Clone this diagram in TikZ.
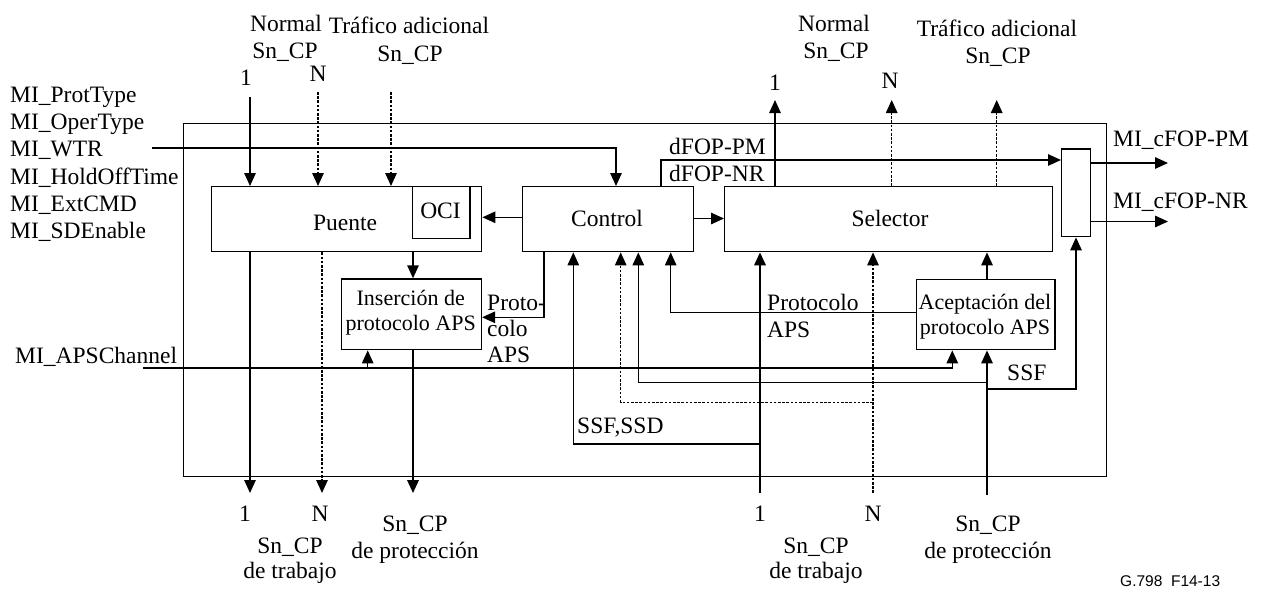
\documentclass[tikz,border=0pt]{standalone}
\usepackage{fontspec}
\setmainfont{Liberation Serif}
\newfontfamily\sansf{Liberation Sans}
\usetikzlibrary{arrows.meta}
\begin{document}
\begin{tikzpicture}[x=1pt,y=-1pt,
  ln/.style={line width=1.4pt},
  thk/.style={line width=2pt},
  dotl/.style={line width=1.4pt, dash pattern=on 2.6pt off 1.6pt},
  arr/.style={-{Triangle[length=13pt,width=11.5pt]}},
  box/.style={draw, line width=1.4pt, inner sep=0pt, anchor=north west},
  txt/.style={inner sep=0pt, font=\fontsize{23.5}{27}\selectfont},
  btxt/.style={inner sep=0pt, font=\fontsize{22}{26}\selectfont},
]
\useasboundingbox (0,0) rectangle (1263,595);
% boxes
\node[box, minimum width=923pt, minimum height=353pt] (outer) at (183,123) {};
\node[box, minimum width=270pt, minimum height=65pt] (puente) at (211,186) {};
\node[box, minimum width=57.6pt, minimum height=51.7pt] (oci) at (411.7,186) {};
\node[box, minimum width=171pt, minimum height=65pt] (control) at (521.7,186) {};
\node[box, minimum width=328pt, minimum height=65pt] (selector) at (724,186) {};
\node[box, minimum width=28.5pt, minimum height=87.7pt] (comb) at (1061,148.3) {};
\node[box, minimum width=140pt, minimum height=70.7pt] (ins) at (340.7,278.3) {};
\node[box, minimum width=138.6pt, minimum height=70pt] (acc) at (915.7,279) {};
% box texts
\node[txt, anchor=base] (tpuente) at (345,230) {Puente};
\node[txt, anchor=base] (toci) at (440.5,218) {OCI};
\node[txt, anchor=base] (tcontrol) at (607,226.7) {Control};
\node[txt, anchor=base] (tselector) at (890,226.7) {Selector};
\node[btxt, anchor=base] (tins1) at (410.7,305) {Inserción de};
\node[btxt, anchor=base] (tins2) at (410.7,330.5) {protocolo APS};
\node[btxt, anchor=base] (tacc1) at (985,309) {Aceptación del};
\node[btxt, anchor=base] (tacc2) at (985,334.5) {protocolo APS};
% left management labels
\node[txt, anchor=base west] (l1) at (10,102.5) {MI\_ProtType};
\node[txt, anchor=base west] (l2) at (10,129.7) {MI\_OperType};
\node[txt, anchor=base west] (l3) at (10,156.9) {MI\_WTR};
\node[txt, anchor=base west] (l4) at (10,184.1) {MI\_HoldOffTime};
\node[txt, anchor=base west] (l5) at (10,211.3) {MI\_ExtCMD};
\node[txt, anchor=base west] (l6) at (10,238.5) {MI\_SDEnable};
\node[txt, anchor=base west] (lap) at (15,363) {MI\_APSChannel};
% top labels
\node[txt, anchor=base] (tn1) at (286,31) {Normal};
\node[txt, anchor=base] (tn2) at (285,58) {Sn\_CP};
\node[txt, anchor=base] (tn3) at (246,85) {1};
\node[txt, anchor=base] (tn4) at (318,81) {N};
\node[txt, anchor=base] (tt1) at (409,33) {Tráfico adicional};
\node[txt, anchor=base] (tt2) at (410,61) {Sn\_CP};
\node[txt, anchor=base] (rn1) at (834,31) {Normal};
\node[txt, anchor=base] (rn2) at (836,58) {Sn\_CP};
\node[txt, anchor=base] (rn3) at (775,90) {1};
\node[txt, anchor=base] (rn4) at (890,88) {N};
\node[txt, anchor=base] (rt1) at (997,36) {Tráfico adicional};
\node[txt, anchor=base] (rt2) at (998,63) {Sn\_CP};
% signal labels
\node[txt, anchor=base west] (dpm) at (669,154) {dFOP-PM};
\node[txt, anchor=base west] (dnr) at (669,181.5) {dFOP-NR};
\node[txt, anchor=base west] (cpm) at (1113,146.5) {MI\_cFOP-PM};
\node[txt, anchor=base west] (cnr) at (1113,208) {MI\_cFOP-NR};
\node[txt, anchor=base west] (pr1) at (487,310) {Proto-};
\node[txt, anchor=base west] (pr2) at (487,336) {colo};
\node[txt, anchor=base west] (pr3) at (487,362) {APS};
\node[txt, anchor=base west] (pa1) at (767,310) {Protocolo};
\node[txt, anchor=base west] (pa2) at (767,337) {APS};
\node[txt, anchor=base west] (sfsd) at (577,433) {SSF,SSD};
\node[txt, anchor=base west] (ssf) at (1007,380) {SSF};
% bottom labels
\node[txt, anchor=base] (b1) at (245,521.7) {1};
\node[txt, anchor=base] (bN) at (320,521.7) {N};
\node[txt, anchor=base] (bw1) at (290,553) {Sn\_CP};
\node[txt, anchor=base] (bw2) at (290,578) {de trabajo};
\node[txt, anchor=base] (bp1) at (415,531) {Sn\_CP};
\node[txt, anchor=base] (bp2) at (415,558) {de protección};
\node[txt, anchor=base] (c1) at (760,521.7) {1};
\node[txt, anchor=base] (cN) at (873,521.7) {N};
\node[txt, anchor=base] (cw1) at (816,553) {Sn\_CP};
\node[txt, anchor=base] (cw2) at (816,578) {de trabajo};
\node[txt, anchor=base] (cp1) at (988,531) {Sn\_CP};
\node[txt, anchor=base] (cp2) at (988,558) {de protección};
\node[inner sep=0pt, anchor=base west, font=\sansf\fontsize{15.5}{18}\selectfont] (fig) at (1120,586.7) {G.798\ \ F14-13};
% free-end coordinates
\coordinate (wtr) at (152,148);
\coordinate (tin1) at (250,97);
\coordinate (tinN) at (318,92);
\coordinate (tinT) at (391,92);
\coordinate (sout1) at (775,100);
\coordinate (soutN) at (891.7,100);
\coordinate (soutT) at (996.7,100);
\coordinate (opm) at (1168,163);
\coordinate (onr) at (1168,221.5);
\coordinate (bout1) at (250,493);
\coordinate (boutN) at (322,493);
\coordinate (bprot) at (413,493);
\coordinate (apsc) at (143,368);
\coordinate (apsb) at (367.7,368);
\coordinate (rin1) at (760,493);
\coordinate (rinN) at (873,493);
\coordinate (rinP) at (987,495);
\coordinate (j1) at (760,444);
\coordinate (jN) at (873,402.3);
\coordinate (jP) at (987,382.5);
\coordinate (jS) at (987,389);
% connectors
\draw[ln,arr] (wtr) -| (control.north -| 616,0);
\draw[ln,arr] (tin1) -- (tin1 |- puente.north);
\draw[dotl,arr] (tinN) -- (tinN |- puente.north);
\draw[dotl,arr] (tinT) -- (tinT |- puente.north);
\draw[ln,arr] (control.west |- 0,217.3) -- (puente.east |- 0,217.3);
\draw[ln,arr] (control.east |- 0,218.5) -- (selector.west |- 0,218.5);
\draw[ln,arr] (control.north -| 661,0) |- (comb.west |- 0,160);
\draw[ln,arr] (selector.north -| sout1) -- (sout1);
\draw[dotl,arr] (selector.north -| soutN) -- (soutN);
\draw[dotl,arr] (selector.north -| soutT) -- (soutT);
\draw[ln,arr] (comb.east |- opm) -- (opm);
\draw[ln,arr] (comb.east |- onr) -- (onr);
\draw[ln,arr] (puente.south -| bout1) -- (bout1);
\draw[dotl,arr] (puente.south -| boutN) -- (boutN);
\draw[ln,arr] (puente.south -| 413,0) -- (ins.north -| 413,0);
\draw[thk,arr] (ins.south -| bprot) -- (bprot);
\draw[ln,arr] (apsc) -| (acc.south -| 952.3,0);
\draw[ln,arr] (apsb) -- (ins.south -| apsb);
\draw[ln,arr] (control.south -| 544,0) |- (ins.east |- 0,317.3);
\draw[ln,arr] (j1) -| (control.south -| 573.3,0);
\draw[dotl,arr] (jN) -| (control.south -| 620.7,0);
\draw[ln,arr] (jP) -| (control.south -| 638.3,0);
\draw[ln,arr] (acc.west |- 0,312.7) -| (control.south -| 670.7,0);
\draw[thk,arr] (rin1) -- (selector.south -| rin1);
\draw[dotl,arr] (rinN) -- (selector.south -| rinN);
\draw[ln,arr] (acc.north -| rinP) -- (selector.south -| rinP);
\draw[ln,arr] (rinP) -- (acc.south -| rinP);
\draw[ln,arr] (jS) -| (comb.south -| 1076,0);
\end{tikzpicture}
\end{document}
